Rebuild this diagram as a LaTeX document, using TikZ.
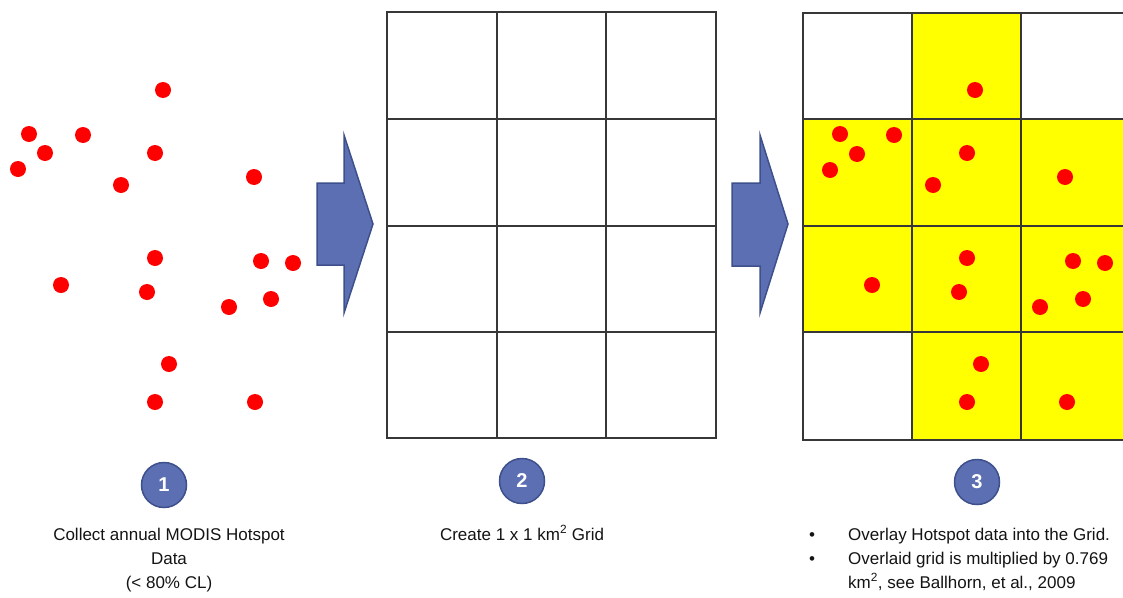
\documentclass[tikz,border=0pt]{standalone}
\usepackage{fontspec}
\setmainfont{Liberation Sans}
\begin{document}
\begin{tikzpicture}[x=1pt,y=-1pt]
\definecolor{shapeblue}{RGB}{91,111,178}
\definecolor{shapeedge}{RGB}{62,80,140}
\definecolor{gridgray}{RGB}{55,55,55}
\definecolor{textdark}{RGB}{20,20,20}
\definecolor{cellyellow}{RGB}{255,255,0}
\tikzset{
  dot/.style={circle,fill=red,draw=none,minimum size=16pt,inner sep=0pt},
  gridline/.style={draw=gridgray,line width=1.4pt,line cap=rect},
  bigarrow/.style={fill=shapeblue,draw=shapeedge,line width=1.5pt,line join=miter},
  badge/.style={circle,fill=shapeblue,draw=shapeedge,line width=1.5pt,minimum size=45pt,inner sep=0pt,text=white,font=\fontsize{20}{20}\selectfont\bfseries},
  caption/.style={inner sep=0pt,text=textdark,font=\fontsize{17}{24}\selectfont},
}
\useasboundingbox (0,0) rectangle (1123,597);
\fill[white] (0,0) rectangle (1123,597);

% ---------- panel 1: hotspots ----------
\foreach \n/\x/\y in {1/163/90,2/29/134,3/83/135,4/45/153,5/155/153,6/18/169,7/121/185,8/254/177,9/155/258,10/261/261,11/293/263,12/61/285,13/147/292,14/271/299,15/229/307,16/169/364,17/155/402,18/255/402}
  \node[dot] (p\n) at (\x,\y) {};

% ---------- arrows ----------
\draw[bigarrow] (317,183) -- (344,183) -- (344,135) -- (373,224) -- (344,313) -- (344,265) -- (317,265) -- cycle;
\draw[bigarrow] (732,183) -- (760,183) -- (760,135) -- (788,224) -- (760,313) -- (760,266) -- (732,266) -- cycle;

% ---------- panel 2: grid ----------
\foreach \y in {12,119,226,332,438}
  \draw[gridline] (387,\y) -- (716,\y);
\foreach \x in {387,497,606,716}
  \draw[gridline] (\x,12) -- (\x,438);

% ---------- panel 3: overlay ----------
\fill[cellyellow] (912,13) rectangle (1021,440);
\fill[cellyellow] (803,119) rectangle (1123,332);
\fill[cellyellow] (912,332) rectangle (1123,440);
\foreach \y in {13,119,226,332,440}
  \draw[gridline] (803,\y) -- (1123,\y);
\foreach \x in {803,912,1021}
  \draw[gridline] (\x,13) -- (\x,440);
\foreach \n/\x/\y in {1/975/90,2/840/134,3/894/135,4/857/154,5/967/153,6/830/170,7/933/185,8/1065/177,9/967/258,10/1073/261,11/1105/263,12/872/285,13/959/292,14/1083/299,15/1040/307,16/981/364,17/967/402,18/1067/402}
  \node[dot] (q\n) at (\x,\y) {};

% ---------- badges ----------
\node[badge] (b1) at (164,485) {1};
\node[badge] (b2) at (522,481) {2};
\node[badge] (b3) at (977,482) {3};

% ---------- captions ----------
\node[caption,align=center,anchor=base] (c1) at (169,588) {Collect annual MODIS Hotspot\\Data\\(< 80\% CL)};
\node[caption,anchor=base] (c2) at (522,540) {Create 1 x 1 km\textsuperscript{2} Grid};
\node[caption,anchor=base] (t1) at (812,540) {•};
\node[caption,anchor=base] (t2) at (812,564) {•};
\node[caption,anchor=base west] (l1) at (848,540) {Overlay Hotspot data into the Grid.};
\node[caption,anchor=base west] (l2) at (848,564) {Overlaid grid is multiplied by 0.769};
\node[caption,anchor=base west] (l3) at (848,588) {km\textsuperscript{2}, see Ballhorn, et al., 2009};
\end{tikzpicture}
\end{document}
